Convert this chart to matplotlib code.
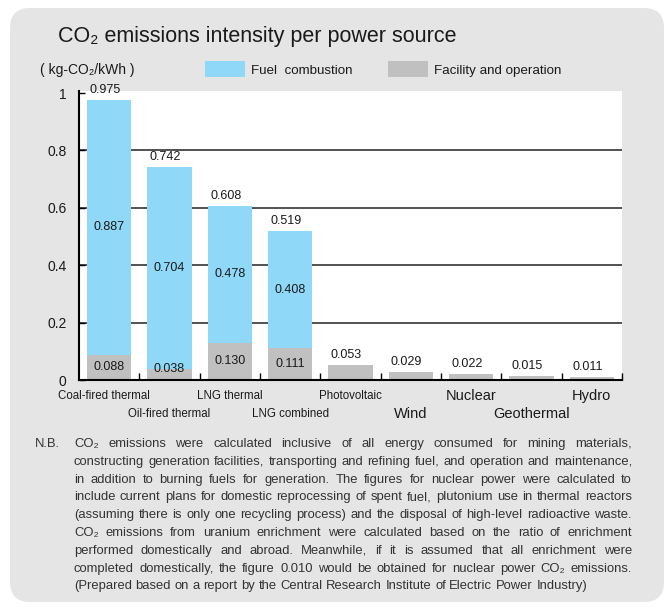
import matplotlib
matplotlib.use('Agg')
import matplotlib.pyplot as plt
from matplotlib.patches import FancyBboxPatch, Rectangle
import numpy as np

plt.rcParams['font.family'] = ['Liberation Sans', 'DejaVu Sans']

# data
sources = ['Coal-fired thermal', 'Oil-fired thermal', 'LNG thermal', 'LNG combined',
           'Photovoltaic', 'Wind', 'Nuclear', 'Geothermal', 'Hydro']
fuel = [0.887, 0.704, 0.478, 0.408, 0, 0, 0, 0, 0]
facility = [0.088, 0.038, 0.130, 0.111, 0.053, 0.029, 0.022, 0.015, 0.011]
yticks = [0, 0.2, 0.4, 0.6, 0.8, 1]
ytick_labels = ['0', '0.2', '0.4', '0.6', '0.8', '1']

note_lines = [
    'CO\u2082 emissions were calculated inclusive of all energy consumed for mining materials,',
    'constructing generation facilities, transporting and refining fuel, and operation and maintenance,',
    'in addition to burning fuels for generation. The figures for nuclear power were calculated to',
    'include current plans for domestic reprocessing of spent fuel, plutonium use in thermal reactors',
    '(assuming there is only one recycling process) and the disposal of high-level radioactive waste.',
    'CO\u2082 emissions from uranium enrichment were calculated based on the ratio of enrichment',
    'performed domestically and abroad. Meanwhile, if it is assumed that all enrichment were',
    'completed domestically, the figure 0.010 would be obtained for nuclear power CO\u2082 emissions.',
    '(Prepared based on a report by the Central Research Institute of Electric Power Industry)',
]

BLUE = '#8fd8f8'
GRAY = '#c0c0c0'
TXT = '#1a1a1a'
W, H = 664, 614


def px(x, y):
    # pixel position (top-left origin) -> figure fraction
    return x / W, 1 - y / H


fig = plt.figure(figsize=(W / 100, H / 100), dpi=100)
fig.patch.set_facecolor('white')

panel = FancyBboxPatch((0.10, 0.12), 6.54, 5.94,
                       boxstyle='round,pad=0,rounding_size=0.2',
                       transform=fig.dpi_scale_trans, fc='#e5e5e5', ec='none', zorder=-5)
fig.patches.append(panel)

# title and header
fig.text(*px(58, 42), 'CO\u2082 emissions intensity per power source',
         fontsize=15.5, va='baseline', color=TXT)
fig.text(*px(40, 74), '( kg-CO\u2082/kWh )', fontsize=10, va='baseline', color=TXT)
for (x0, lab, col) in [(205, 'Fuel  combustion', BLUE), (388, 'Facility and operation', GRAY)]:
    fx, fy = px(x0, 77)
    fig.patches.append(Rectangle((fx, fy), 40 / W, 16 / H, transform=fig.transFigure,
                                 fc=col, ec='none'))
    fig.text(*px(x0 + 46, 74), lab, fontsize=9.6, va='baseline', color=TXT)

# chart
ax = fig.add_axes([79 / W, 1 - 380 / H, 543 / W, 289 / H])
ax.set_facecolor('white')
x = np.arange(len(sources))
ax.set_xlim(-0.5, len(sources) - 0.5)
ax.set_ylim(0, 1.007)

for v in [0.2, 0.4, 0.6, 0.8]:
    ax.axhline(v, color='#222222', lw=1.1, zorder=1)

ax.bar(x, facility, 0.73, color=GRAY, zorder=2)
ax.bar(x, fuel, 0.73, bottom=facility, color=BLUE, zorder=2)

for s in ['top', 'right']:
    ax.spines[s].set_visible(False)
for s in ['left', 'bottom']:
    ax.spines[s].set_linewidth(1.5)
    ax.spines[s].set_color('black')

ax.set_yticks(yticks)
ax.set_yticklabels(ytick_labels)
ax.tick_params(axis='y', direction='in', length=4, width=1, labelsize=10, pad=9,
               labelcolor=TXT)
ax.set_xticks(x + 0.5)
ax.set_xticklabels([])
ax.tick_params(axis='x', direction='in', length=5, width=1)

for i, (f, c) in enumerate(zip(fuel, facility)):
    total = f + c
    ax.annotate('%.3f' % total, (i, total), xytext=(-3, 5), textcoords='offset points',
                ha='center', va='baseline', fontsize=9, color=TXT)
    if f > 0:
        ax.text(i, c + f / 2, '%.3f' % f, ha='center', va='center', fontsize=9, color=TXT)
        ax.text(i, max(c / 2, 0.038), '%.3f' % c, ha='center', va='center',
                fontsize=9, color=TXT)

big = {'Wind', 'Nuclear', 'Geothermal', 'Hydro'}
for i, name in enumerate(sources):
    yy = -0.055 if i % 2 == 0 else -0.118
    xx = i - 0.08 if i == 0 else i
    ax.text(xx, yy, name, transform=ax.get_xaxis_transform(), ha='center', va='center',
            fontsize=10.5 if name in big else 8.3, color=TXT)

# note text, justified
renderer = fig.canvas.get_renderer()
left, right = 74, 632


def wwidth(t):
    return t.get_window_extent(renderer).width


# pick the font size so the widest line just fits the column
fs0 = 10
widest = 0
for line in note_lines[:-1]:
    t = fig.text(0, 0, line, fontsize=fs0)
    widest = max(widest, wwidth(t))
    t.remove()
fs = fs0 * (right - left) / (widest + 4)

fig.text(*px(35, 447), 'N.B.', fontsize=fs, va='baseline', color='#333333')

probe1 = fig.text(0, 0, 'a a', fontsize=fs)
probe2 = fig.text(0, 0, 'aa', fontsize=fs)
space = wwidth(probe1) - wwidth(probe2)
probe1.remove()
probe2.remove()

for k, line in enumerate(note_lines):
    ybase = 447 + 17.8 * k
    words = line.split(' ')
    texts = [fig.text(*px(left, ybase), w, fontsize=fs, va='baseline', color='#333333')
             for w in words]
    widths = [wwidth(t) for t in texts]
    if k < len(note_lines) - 1:
        gap = (right - left - sum(widths)) / (len(words) - 1)
    else:
        gap = space
    xpos = left
    for t, wd in zip(texts, widths):
        t.set_x(xpos / W)
        xpos += wd + gap

fig.savefig('out.png', dpi=100)
